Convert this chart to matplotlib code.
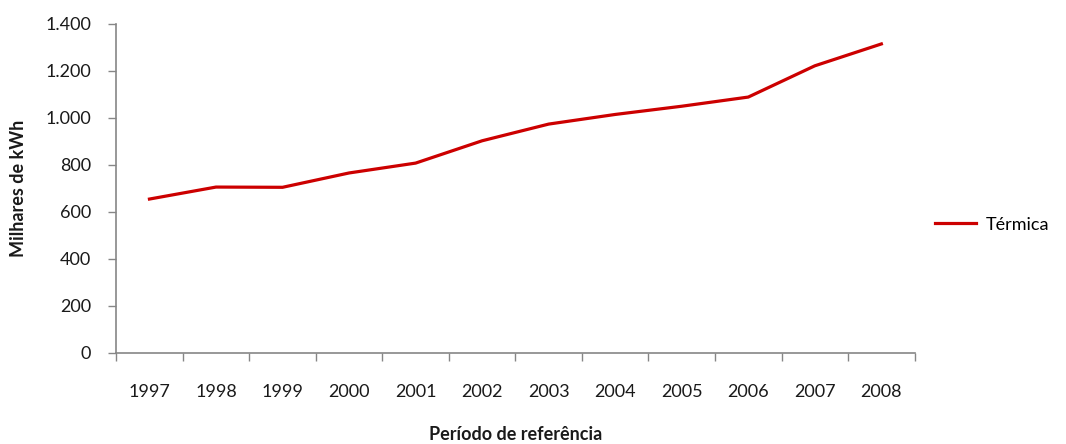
import matplotlib as mpl

mpl.use("Agg")
import matplotlib.pyplot as plt
import numpy as np
from matplotlib.ticker import FuncFormatter

YEARS = ["1997", "1998", "1999", "2000", "2001", "2002",
         "2003", "2004", "2005", "2006", "2007", "2008"]
TERMICA = [655, 706, 705, 766, 808, 903, 974, 1015, 1050, 1089, 1222, 1315]

LINE = "#CC0000"
AXIS = "#868686"
TEXT = "#1A1A1A"

mpl.rcParams.update({"font.family": ["Lato", "DejaVu Sans"]})

fig = plt.figure(figsize=(10.66, 4.44), dpi=100)
ax = fig.add_axes([0.109, 0.205, 0.749, 0.741])

x = np.arange(len(YEARS))
ax.plot(x, TERMICA, color=LINE, linewidth=2.3, label="Térmica", solid_joinstyle="miter")

ax.set_xlim(-0.5, len(YEARS) - 0.5)
ax.set_ylim(0, 1400)
ax.set_yticks(np.arange(0, 1401, 200))
ax.yaxis.set_major_formatter(FuncFormatter(lambda v, _: f"{int(v):,}".replace(",", ".")))

ax.set_xticks(np.arange(-0.5, len(YEARS)), [""] * (len(YEARS) + 1))
ax.set_xticks(x, YEARS, minor=True)
ax.tick_params(axis="x", which="major", length=6, width=1, color=AXIS)
ax.tick_params(axis="x", which="minor", length=0, pad=22, labelsize=13, labelcolor=TEXT)
ax.tick_params(axis="y", length=6, width=1, color=AXIS, labelsize=13, labelcolor=TEXT, pad=12)

for side in ("top", "right"):
    ax.spines[side].set_visible(False)
for side in ("left", "bottom"):
    ax.spines[side].set_color(AXIS)
    ax.spines[side].set_linewidth(1.2)

ax.set_ylabel("Milhares de kWh", fontsize=13, fontweight="bold", color=TEXT, labelpad=13)
ax.set_xlabel("Período de referência", fontsize=13, fontweight="bold", color=TEXT, labelpad=19)

ax.legend(loc="center left", bbox_to_anchor=(1.005, 0.39), frameon=False,
          fontsize=13, handlelength=2.3, handletextpad=0.5)

fig.savefig("out.png", dpi=100, facecolor="white")
